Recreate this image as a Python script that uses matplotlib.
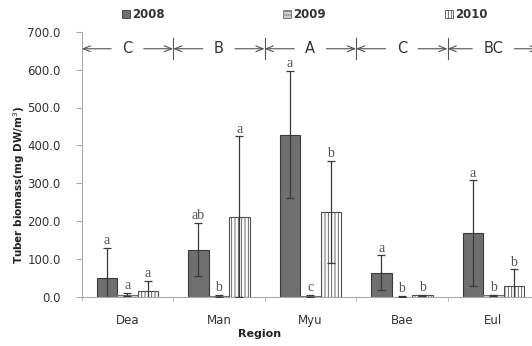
import matplotlib
matplotlib.use("Agg")
import matplotlib.pyplot as plt
import numpy as np

regions = ["Dea", "Man", "Myu", "Bae", "Eul"]
years = ["2008", "2009", "2010"]
values = {
    "2008": [50, 125, 428, 64, 168],
    "2009": [6, 3, 3, 1, 4],
    "2010": [15, 212, 225, 4, 30],
}
errors = {
    "2008": [79, 70, 168, 46, 140],
    "2009": [4, 2, 2, 1, 2],
    "2010": [27, 212, 135, 2, 43],
}
letters = {
    "2008": ["a", "ab", "a", "a", "a"],
    "2009": ["a", "b", "c", "b", "b"],
    "2010": ["a", "a", "b", "b", "b"],
}
groups = ["C", "B", "A", "C", "BC"]
yticks = [0, 100, 200, 300, 400, 500, 600, 700]

plt.rcParams['hatch.linewidth'] = 0.6
fig = plt.figure(figsize=(5.32, 3.46), dpi=100)
ax = fig.add_axes([81.7/532, 49/346, (539-81.7)/532, (297-31.7)/346])

styles = {
    "2008": dict(facecolor="#6f6f6f", edgecolor="#3a3a3a", hatch=None),
    "2009": dict(facecolor="#d4d4d4", edgecolor="#707070", hatch="-----"),
    "2010": dict(facecolor="white", edgecolor="#505050", hatch="|||||"),
}
bw = 0.224
x = np.arange(len(regions)) + 0.5
for j, yr in enumerate(years):
    xs = x + (j - 1) * bw
    st = styles[yr]
    ax.bar(xs, values[yr], width=bw, color=st["facecolor"], edgecolor=st["edgecolor"],
           hatch=st["hatch"], linewidth=0.8, zorder=2)
    ax.errorbar(xs, values[yr], yerr=errors[yr], fmt='none', ecolor="#3a3a3a",
                elinewidth=0.9, capsize=3, capthick=0.9, zorder=3)
    for xi, v, e, lab in zip(xs, values[yr], errors[yr], letters[yr]):
        ax.text(xi, v + e + 2, lab, ha='center', va='bottom', fontsize=10,
                family='Liberation Serif', color="#555555", zorder=4)

ax.set_xlim(0, 5)
ax.set_ylim(0, 700)
ax.set_yticks(yticks)
ax.set_yticklabels([f"{t:.1f}" for t in yticks])
ax.set_xticks(x)
ax.set_xticklabels(regions)
ax.set_xticks(np.arange(0, 6), minor=True)
ax.tick_params(axis='x', which='major', length=0, pad=12, labelsize=8.5, labelcolor="#333333")
ax.tick_params(axis='x', which='minor', length=3, color="#aaaaaa")
ax.tick_params(axis='y', length=4, color="#aaaaaa", pad=11, labelsize=8.5, labelcolor="#333333")
for s in ["top", "right"]:
    ax.spines[s].set_visible(False)
for s in ["left", "bottom"]:
    ax.spines[s].set_color("#aaaaaa")

fig.text(260/532, 1 - 334/346, "Region", ha='center', va='center', fontsize=8, fontweight='bold', color="#222222")
fig.text(19/532, 1 - 185/346, "Tuber biomass(mg DW/m$^3$)", rotation=90, ha='center', va='center',
         fontsize=7.5, fontweight='bold', color="#222222")

# Group brackets
ya = 655
for i, g in enumerate(groups):
    c = i + 0.5
    for target in (i, i + 1):
        ax.annotate(g, xy=(target, ya), xytext=(c, ya), ha='center', va='center',
                    fontsize=10.5, color="#333333" if target == i else "none",
                    arrowprops=dict(arrowstyle="->,head_length=0.5,head_width=0.2",
                                    color="#555555", lw=0.8, shrinkA=6, shrinkB=0),
                    annotation_clip=False)
for b in range(1, 5):
    ax.plot([b, b], [ya - 28, ya + 28], color="#555555", lw=0.8, clip_on=False)

# Legend
for px, yr in zip([122, 283, 445], years):
    st = styles[yr]
    fig.patches.append(plt.Rectangle((px/532, 1 - 18/346), 8/532, 8/346, transform=fig.transFigure,
                                     facecolor=st["facecolor"], edgecolor=st["edgecolor"],
                                     hatch=st["hatch"], linewidth=0.6))
    fig.text((px + 10)/532, 1 - 14/346, yr, ha='left', va='center', fontsize=8.5, fontweight='bold', color="#333333")

fig.savefig("out.png", dpi=100)
